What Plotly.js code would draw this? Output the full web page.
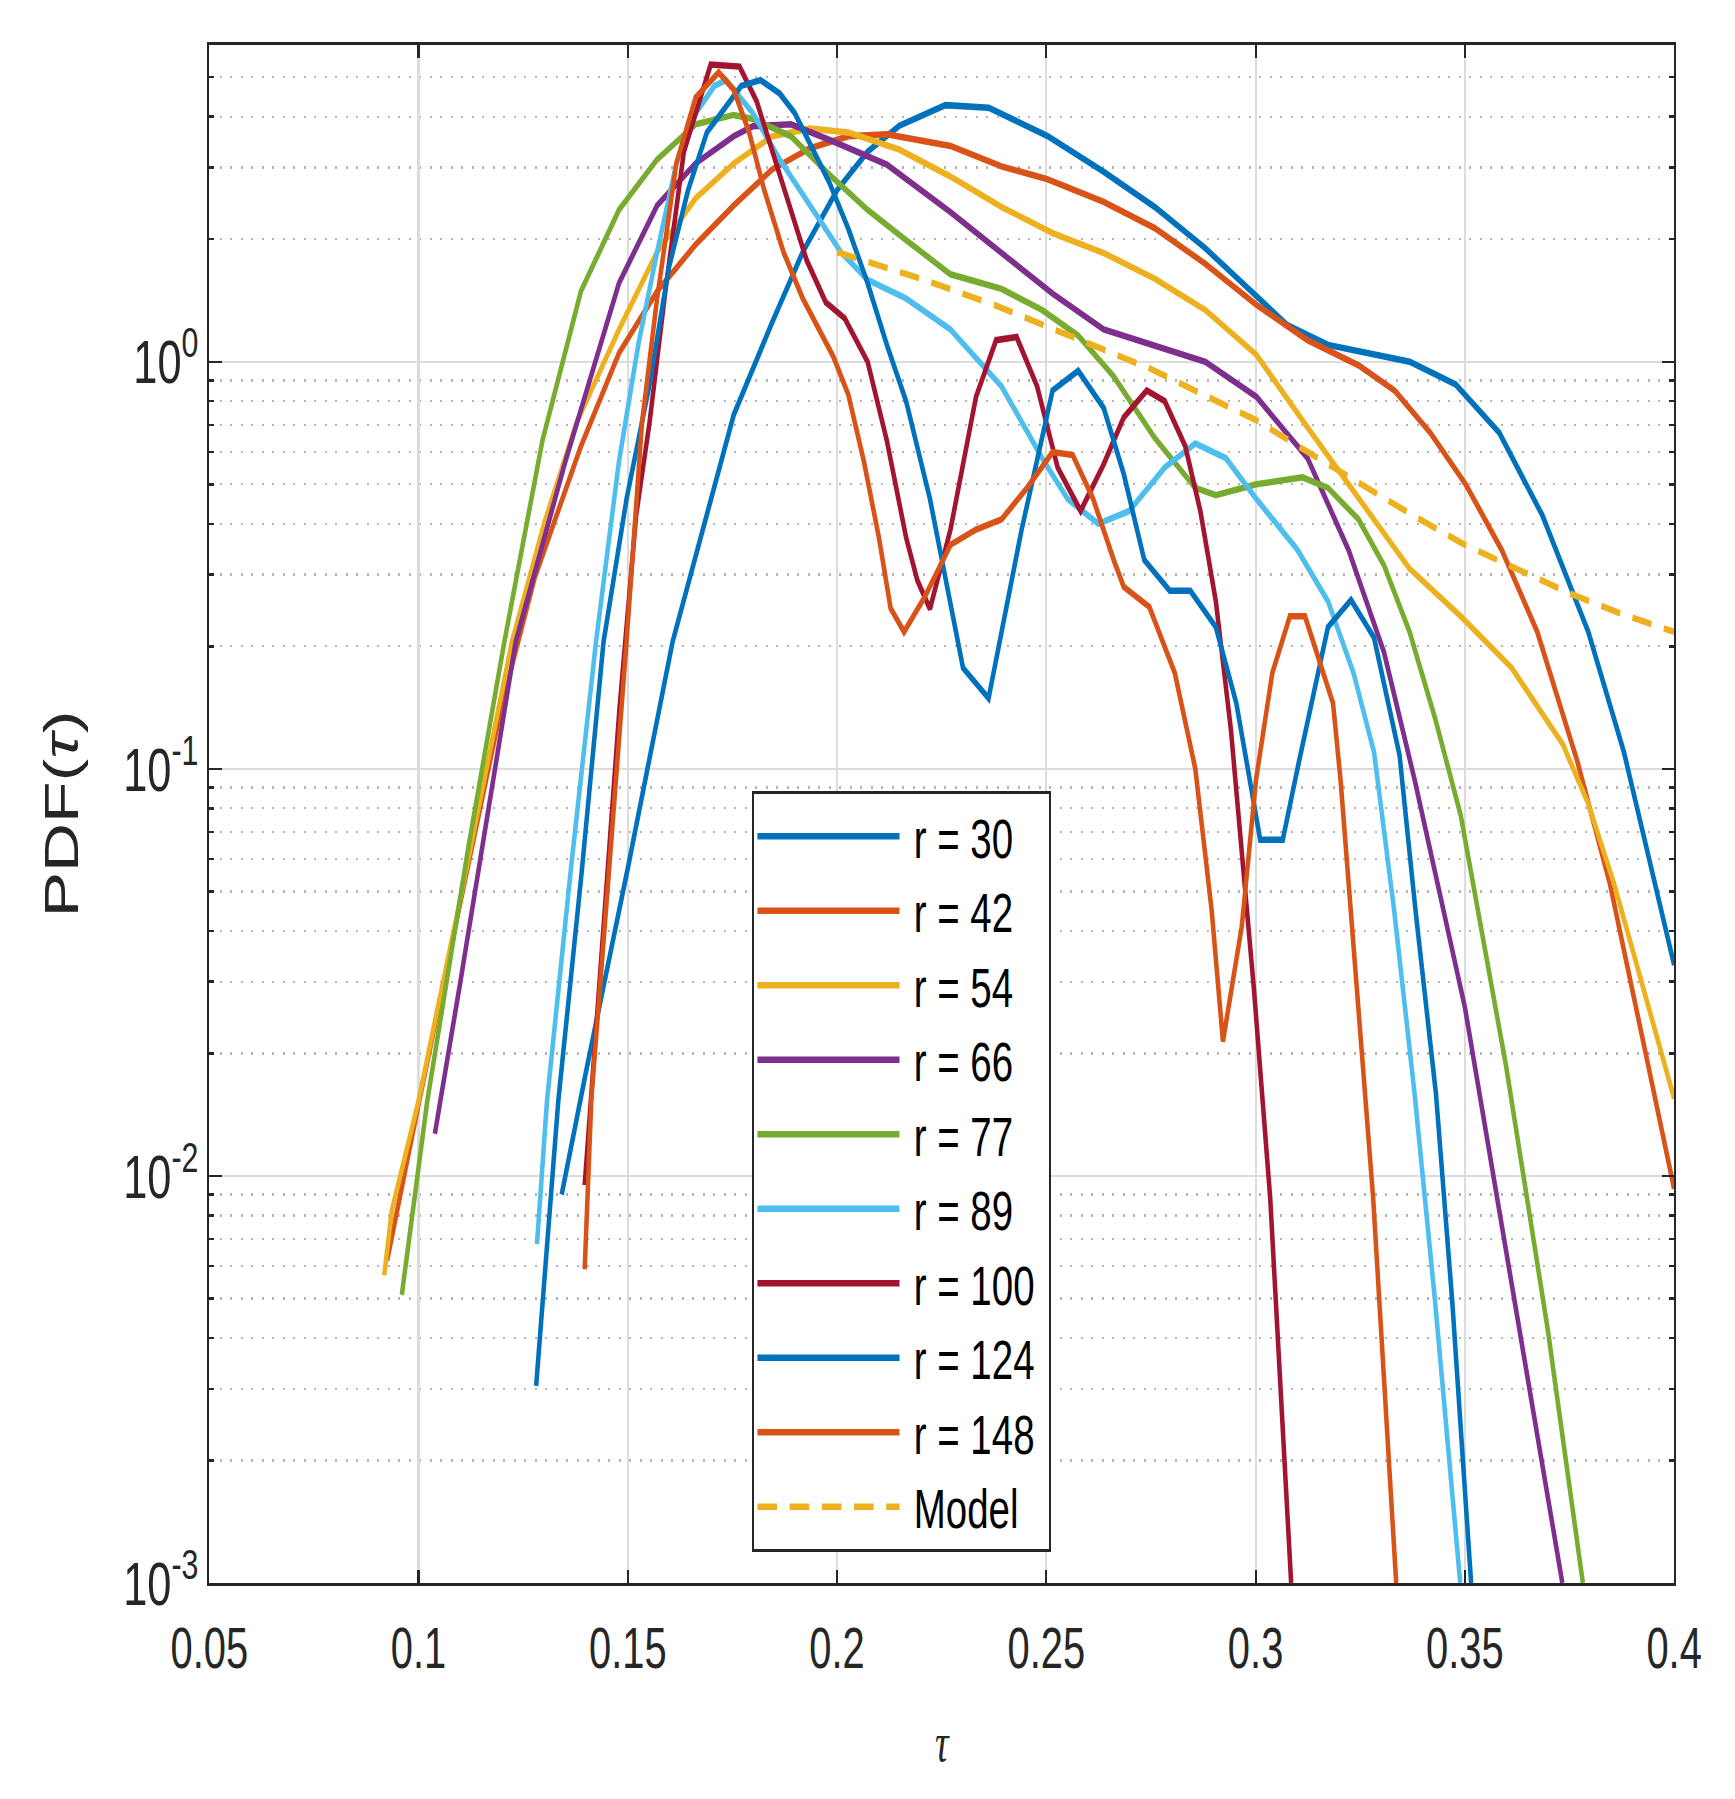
<!DOCTYPE html>
<html>
<head>
<meta charset="utf-8">
<script src="https://cdn.plot.ly/plotly-3.0.1.min.js"></script>
<style>
  html, body { margin: 0; padding: 0; background: #fff; overflow: hidden; }
  #frame { width: 1735px; height: 1799px; overflow: hidden; }
  /* the original figure is horizontally condensed, so draw wide and squeeze */
  #chart { width: 2479px; height: 1799px; transform: scaleX(0.69988); transform-origin: 0 0; }
</style>
</head>
<body>
<div id="frame"><div id="chart"></div></div>
<script>
// PDF(tau), one pair of arrays per radius
var tau30 = [0.1342, 0.140, 0.150, 0.1607, 0.1753, 0.1845, 0.1918, 0.2000, 0.2073, 0.2149, 0.2259, 0.2362, 0.2502, 0.2637, 0.2759, 0.2880, 0.2996, 0.3076, 0.3173, 0.3368, 0.3478, 0.3582, 0.3685, 0.3795, 0.3880, 0.4000];
var pdf30 = [0.009, 0.018, 0.057, 0.205, 0.74, 1.25, 1.86, 2.64, 3.28, 3.8, 4.27, 4.21, 3.59, 2.93, 2.40, 1.90, 1.47, 1.23, 1.10, 1.0, 0.88, 0.67, 0.42, 0.217, 0.11, 0.033];

var tau42 = [0.0925, 0.100, 0.110, 0.120, 0.1278, 0.1388, 0.1479, 0.157, 0.1662, 0.1753, 0.1845, 0.1936, 0.2027, 0.2119, 0.2271, 0.2393, 0.2502, 0.2637, 0.2759, 0.288, 0.3002, 0.3124, 0.3246, 0.3332, 0.3417, 0.3502, 0.3588, 0.3673, 0.3768, 0.3847, 0.3926, 0.4];
var pdf42 = [0.0062, 0.0150, 0.047, 0.145, 0.296, 0.62, 1.05, 1.49, 1.94, 2.42, 2.97, 3.35, 3.58, 3.62, 3.39, 3.02, 2.81, 2.47, 2.13, 1.74, 1.38, 1.13, 0.98, 0.85, 0.67, 0.50, 0.345, 0.217, 0.105, 0.052, 0.0214, 0.0093];

var tau54 = [0.0918, 0.0936, 0.100, 0.110, 0.1223, 0.1300, 0.1378, 0.1479, 0.157, 0.1662, 0.1753, 0.1845, 0.1936, 0.2027, 0.2149, 0.2271, 0.2393, 0.2515, 0.2637, 0.2759, 0.288, 0.3002, 0.3124, 0.3246, 0.3368, 0.349, 0.3612, 0.3734, 0.3795, 0.3857, 0.393, 0.4];
var pdf54 = [0.0057, 0.0082, 0.0153, 0.048, 0.205, 0.40, 0.71, 1.2, 1.86, 2.52, 3.07, 3.58, 3.74, 3.66, 3.32, 2.85, 2.40, 2.07, 1.85, 1.60, 1.34, 1.04, 0.69, 0.46, 0.31, 0.237, 0.177, 0.115, 0.082, 0.052, 0.028, 0.0155];

var tau66 = [0.1039, 0.110, 0.1232, 0.1351, 0.1479, 0.157, 0.1662, 0.1753, 0.1799, 0.189, 0.1982, 0.2119, 0.2271, 0.2393, 0.2515, 0.2637, 0.2759, 0.288, 0.3002, 0.3124, 0.3222, 0.3307, 0.338, 0.35, 0.3599, 0.3733];
var pdf66 = [0.0127, 0.030, 0.205, 0.57, 1.56, 2.42, 3.07, 3.58, 3.79, 3.83, 3.51, 3.05, 2.33, 1.85, 1.47, 1.2, 1.10, 1.0, 0.82, 0.58, 0.345, 0.193, 0.094, 0.026, 0.0065, 0.001];

var tau77 = [0.0960, 0.1021, 0.112, 0.1205, 0.1296, 0.1388, 0.1479, 0.157, 0.1662, 0.1753, 0.1799, 0.189, 0.1982, 0.2073, 0.2165, 0.2271, 0.2393, 0.249, 0.2576, 0.2661, 0.2759, 0.2856, 0.2905, 0.3002, 0.3112, 0.3173, 0.3246, 0.3307, 0.3368, 0.3429, 0.349, 0.3599, 0.3698, 0.3782];
var pdf77 = [0.0051, 0.0153, 0.065, 0.205, 0.64, 1.49, 2.36, 3.14, 3.83, 4.04, 3.95, 3.58, 2.88, 2.36, 1.99, 1.64, 1.51, 1.34, 1.16, 0.92, 0.65, 0.49, 0.47, 0.50, 0.52, 0.49, 0.41, 0.316, 0.217, 0.133, 0.077, 0.0185, 0.0042, 0.001];

var tau89 = [0.1283, 0.1307, 0.1365, 0.1424, 0.1479, 0.1525, 0.157, 0.1616, 0.1662, 0.1707, 0.1735, 0.1799, 0.1863, 0.1936, 0.2009, 0.2073, 0.2165, 0.2271, 0.2393, 0.249, 0.2551, 0.2624, 0.2698, 0.2783, 0.2856, 0.2929, 0.3002, 0.31, 0.3173, 0.3234, 0.3283, 0.3331, 0.338, 0.3429, 0.3489];
var pdf89 = [0.0068, 0.0153, 0.058, 0.205, 0.57, 1.10, 1.86, 3.07, 4.08, 4.76, 4.92, 4.08, 3.14, 2.42, 1.86, 1.59, 1.43, 1.20, 0.87, 0.58, 0.46, 0.40, 0.43, 0.55, 0.63, 0.58, 0.46, 0.345, 0.258, 0.172, 0.11, 0.045, 0.0159, 0.0049, 0.001];

var tau100 = [0.1397, 0.1440, 0.1480, 0.1520, 0.1552, 0.1590, 0.1634, 0.1698, 0.1767, 0.1808, 0.1845, 0.189, 0.1927, 0.1973, 0.2018, 0.2073, 0.2119, 0.2165, 0.2192, 0.2222, 0.2271, 0.2332, 0.238, 0.2429, 0.2478, 0.2527, 0.2582, 0.2637, 0.2685, 0.274, 0.2783, 0.2832, 0.2868, 0.2905, 0.2941, 0.2996, 0.3035, 0.3085];
var pdf100 = [0.0095, 0.04, 0.14, 0.42, 0.71, 1.5, 3.28, 5.37, 5.31, 4.36, 3.28, 2.36, 1.78, 1.40, 1.28, 1.0, 0.64, 0.37, 0.29, 0.247, 0.387, 0.82, 1.13, 1.15, 0.87, 0.55, 0.43, 0.56, 0.73, 0.85, 0.80, 0.62, 0.43, 0.258, 0.125, 0.0288, 0.0088, 0.001];

var tau124 = [0.1281, 0.1334, 0.1390, 0.1442, 0.1497, 0.1552, 0.1598, 0.1644, 0.1689, 0.1735, 0.1771, 0.1817, 0.1863, 0.1899, 0.1936, 0.1982, 0.2027, 0.2073, 0.2119, 0.2165, 0.2222, 0.2301, 0.2362, 0.2441, 0.2515, 0.2576, 0.2637, 0.2685, 0.2734, 0.2795, 0.2844, 0.2905, 0.2954, 0.3011, 0.3065, 0.31, 0.3173, 0.3228, 0.3283, 0.3344, 0.3382, 0.3431, 0.347, 0.3515];
var pdf124 = [0.00305, 0.0153, 0.056, 0.205, 0.46, 0.88, 1.70, 2.64, 3.66, 4.27, 4.76, 4.92, 4.56, 4.08, 3.43, 2.75, 2.12, 1.56, 1.10, 0.80, 0.46, 0.177, 0.149, 0.387, 0.85, 0.95, 0.77, 0.53, 0.326, 0.274, 0.274, 0.223, 0.145, 0.067, 0.067, 0.10, 0.223, 0.26, 0.21, 0.108, 0.045, 0.0159, 0.0049, 0.001];

var tau148 = [0.1397, 0.1413, 0.1450, 0.1497, 0.1534, 0.157, 0.1616, 0.1662, 0.1717, 0.1753, 0.179, 0.1826, 0.1872, 0.1918, 0.1991, 0.2027, 0.2064, 0.21, 0.2128, 0.2160, 0.221, 0.2271, 0.2332, 0.2393, 0.2454, 0.2515, 0.2563, 0.2612, 0.2661, 0.2685, 0.2746, 0.2807, 0.2856, 0.2895, 0.2922, 0.2967, 0.3001, 0.304, 0.3082, 0.3118, 0.3185, 0.3203, 0.3242, 0.3281, 0.3336];
var pdf148 = [0.0059, 0.0155, 0.048, 0.205, 0.71, 1.43, 3.07, 4.46, 5.14, 4.66, 3.66, 2.64, 1.86, 1.43, 1.03, 0.83, 0.57, 0.37, 0.248, 0.217, 0.265, 0.355, 0.387, 0.41, 0.49, 0.60, 0.59, 0.46, 0.326, 0.28, 0.25, 0.172, 0.10, 0.045, 0.0214, 0.041, 0.094, 0.172, 0.237, 0.237, 0.145, 0.094, 0.0288, 0.0088, 0.001];

var tauModel = [0.2, 0.2125, 0.22, 0.2375, 0.25, 0.2625, 0.275, 0.2875, 0.3, 0.3125, 0.325, 0.3375, 0.35, 0.3625, 0.375, 0.3875, 0.4];
var pdfModel = [1.86, 1.70, 1.60, 1.38, 1.22, 1.08, 0.96, 0.83, 0.72, 0.60, 0.50, 0.42, 0.355, 0.31, 0.27, 0.24, 0.217];

var seriesNames = ['r = 30', 'r = 42', 'r = 54', 'r = 66', 'r = 77', 'r = 89', 'r = 100', 'r = 124', 'r = 148', 'Model'];
var seriesColors = ['#0072BD', '#D95319', '#EDB120', '#7E2F8E', '#77AC30', '#4DBEEE', '#A2142F', '#0072BD', '#D95319', '#EDB120'];

var xTickVals = [0.05, 0.1, 0.15, 0.2, 0.25, 0.3, 0.35, 0.4];
var xTickText = ['0.05', '0.1', '0.15', '0.2', '0.25', '0.3', '0.35', '0.4'];
var yTickVals = [0.001, 0.01, 0.1, 1];
var yTickText = ['10<sup>-3</sup>', '10<sup>-2</sup>', '10<sup>-1</sup>', '10<sup>0</sup>'];

var xs = [tau30, tau42, tau54, tau66, tau77, tau89, tau100, tau124, tau148, tauModel];
var ys = [pdf30, pdf42, pdf54, pdf66, pdf77, pdf89, pdf100, pdf124, pdf148, pdfModel];

var sans = 'Liberation Sans, Arial, Helvetica, sans-serif';
var axisColor = '#262626';
var nbsp = '\u00a0';  // pads the legend text away from the line sample and the box edge

var data = [];
for (var i = 0; i < xs.length; i++) {
    data.push({
        x: xs[i],
        y: ys[i],
        name: nbsp + seriesNames[i] + nbsp,
        mode: 'lines',
        type: 'scatter',
        legendgroup: 'g' + i,
        line: {
            color: seriesColors[i],
            width: 6.5,
            dash: i == xs.length - 1 ? '28px,18px' : 'solid'
        }
    });
}

var layout = {
    width: 2479,
    height: 1799,
    margin: {l: 299, r: 87, t: 45, b: 216},
    paper_bgcolor: '#fff',
    plot_bgcolor: '#fff',
    showlegend: true,
    xaxis: {
        range: [0.05, 0.4],
        tickmode: 'array',
        tickvals: xTickVals,
        ticktext: xTickText,
        ticks: 'inside',
        ticklen: 13,
        tickwidth: 3,
        tickcolor: axisColor,
        showline: true,
        linecolor: axisColor,
        linewidth: 3,
        mirror: 'ticks',
        showgrid: true,
        gridcolor: '#dcdcdc',
        gridwidth: 3,
        zeroline: false,
        ticklabelstandoff: 14,
        tickfont: {family: sans, size: 57, color: axisColor},
        title: {
            text: '<i>τ</i>',
            font: {family: 'Liberation Serif, serif', size: 54, color: axisColor},
            standoff: 44
        }
    },
    yaxis: {
        type: 'log',
        range: [-3, Math.log10(6)],
        tickmode: 'array',
        tickvals: yTickVals,
        ticktext: yTickText,
        ticks: 'inside',
        ticklen: 18,
        tickwidth: 2.5,
        tickcolor: axisColor,
        showline: true,
        linecolor: axisColor,
        linewidth: 3,
        mirror: 'ticks',
        showgrid: true,
        gridcolor: '#dcdcdc',
        gridwidth: 2.5,
        zeroline: false,
        tickfont: {family: sans, size: 62, color: axisColor},
        minor: {
            dtick: 'D1',
            ticks: 'inside',
            ticklen: 7,
            tickwidth: 2.5,
            tickcolor: axisColor,
            showgrid: true,
            gridcolor: '#b4b4b4',
            gridwidth: 2.3,
            griddash: '3px,12px'
        },
        title: {
            text: 'PDF(<i>τ</i>)',
            font: {family: sans, size: 68, color: axisColor},
            standoff: 42
        }
    },
    legend: {
        x: 0.3704,
        y: 0.515,
        xanchor: 'left',
        yanchor: 'top',
        bgcolor: '#fff',
        bordercolor: axisColor,
        borderwidth: 3,
        itemwidth: 203,
        traceorder: 'grouped',
        tracegroupgap: 0,
        font: {family: sans, size: 55, color: '#000'}
    }
};

Plotly.newPlot('chart', data, layout, {displayModeBar: false, staticPlot: true});
</script>
</body>
</html>
